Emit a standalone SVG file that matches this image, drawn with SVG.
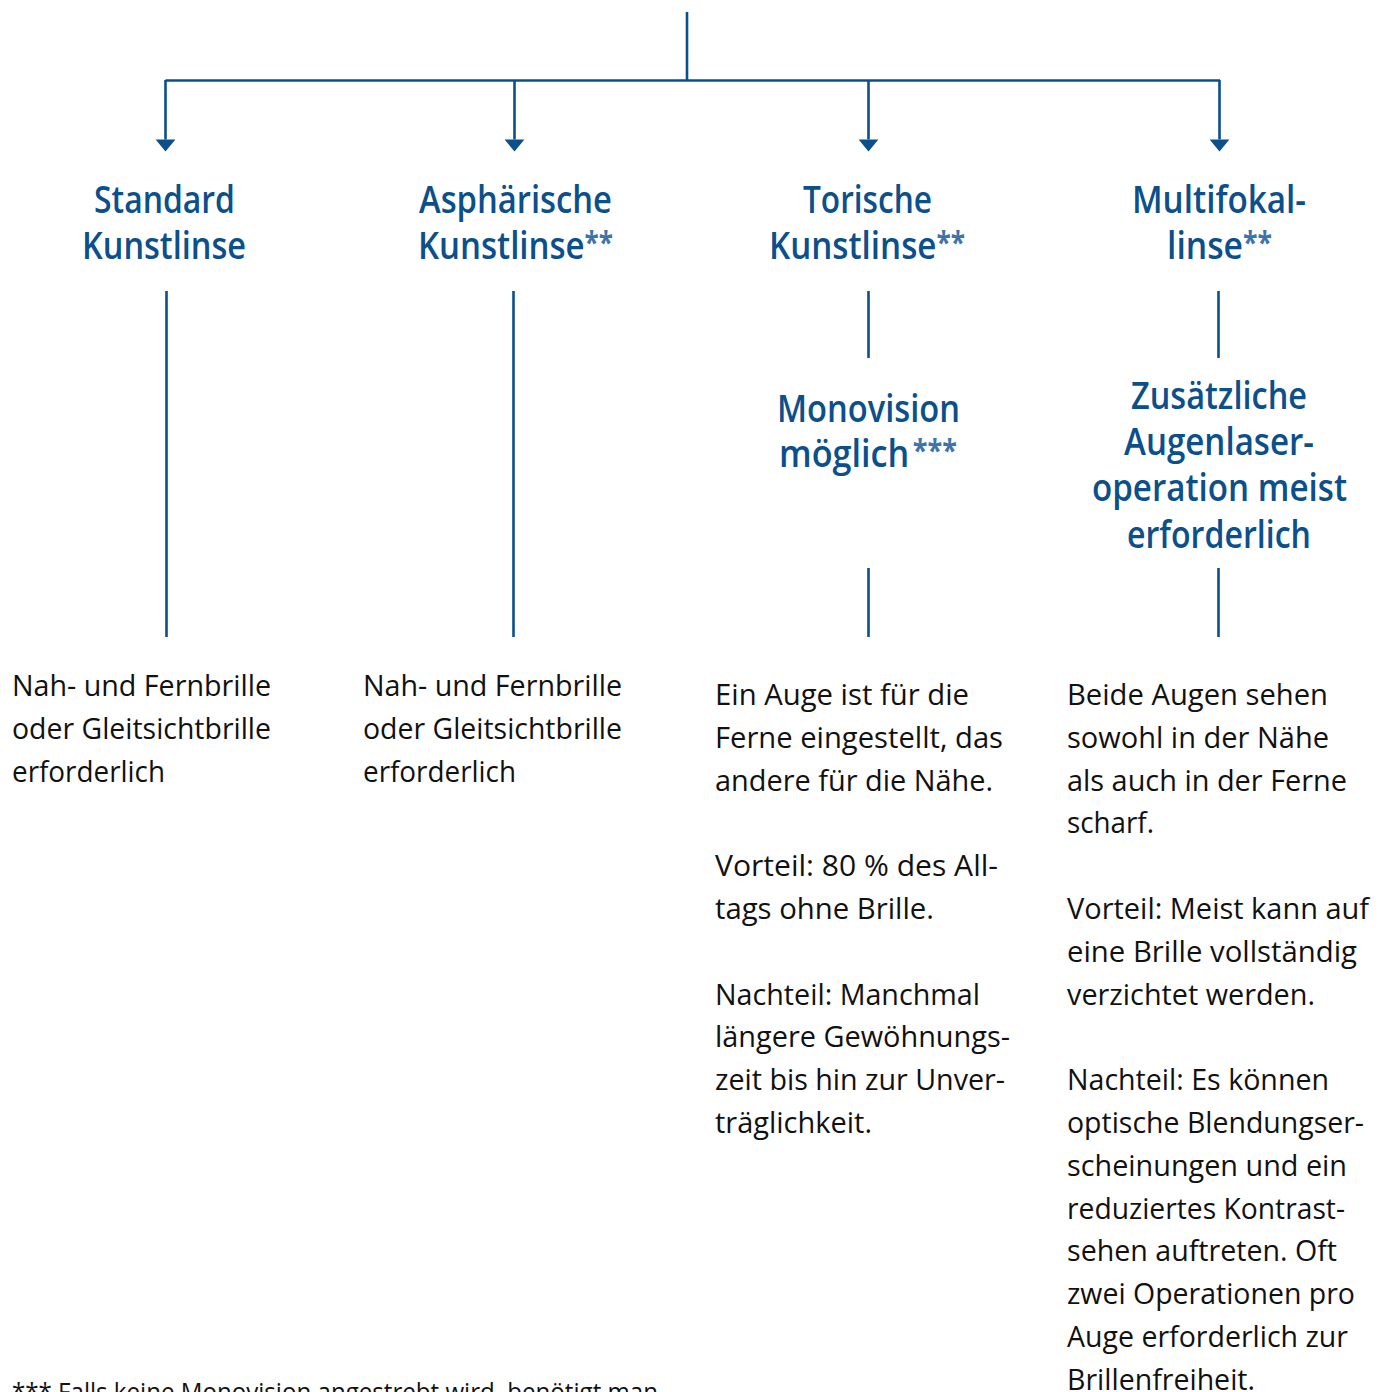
<svg xmlns="http://www.w3.org/2000/svg" width="1388" height="1392" viewBox="0 0 1388 1392">
<style>
  .ln { fill: none; stroke: #0b4f8b; stroke-width: 2.6; }
  .hd { font-family: "Open Sans", "Liberation Sans", sans-serif; font-weight: 600; font-size: 38px; fill: #0b4f8b; }
  .hm { text-anchor: middle; }
  .ast { font-weight: 700; font-size: 30px; fill: #3e74aa; }
  .bd { font-family: "Open Sans", "Liberation Sans", sans-serif; font-weight: 400; font-size: 30px; fill: #111111; }
  .fn { font-family: "Open Sans", "Liberation Sans", sans-serif; font-weight: 400; font-size: 25px; fill: #111111; }
</style>
<defs>
  <marker id="arr" markerUnits="userSpaceOnUse" markerWidth="14" markerHeight="22" viewBox="0 -10 12 20" refX="0" refY="0" orient="auto">
    <path d="M0,-9 L11,0 L0,9 z" fill="#0b4f8b"/>
  </marker>
</defs>
<rect width="1388" height="1392" fill="#ffffff"/>

<g id="connectors">
  <path class="ln" d="M687 12 V81"/>
  <path class="ln" d="M165.5 80.5 H1220"/>
  <path class="ln" d="M165.5 80 V139.5" marker-end="url(#arr)"/>
  <path class="ln" d="M514.5 80 V139.5" marker-end="url(#arr)"/>
  <path class="ln" d="M868.5 80 V139.5" marker-end="url(#arr)"/>
  <path class="ln" d="M1219.5 80 V139.5" marker-end="url(#arr)"/>
  <path class="ln" d="M166.5 291 V637"/>
  <path class="ln" d="M513.5 291 V637"/>
  <path class="ln" d="M868.5 291 V358"/>
  <path class="ln" d="M868.5 568 V637"/>
  <path class="ln" d="M1218.5 291 V358"/>
  <path class="ln" d="M1218.5 568 V637"/>
</g>

<g id="node-standard">
  <text class="hd hm" x="164.5" y="213" textLength="141" lengthAdjust="spacingAndGlyphs">Standard</text>
  <text class="hd hm" x="164" y="259" textLength="164" lengthAdjust="spacingAndGlyphs">Kunstlinse</text>
</g>
<g id="node-asphaerisch">
  <text class="hd hm" x="515.5" y="213" textLength="193" lengthAdjust="spacingAndGlyphs">Asphärische</text>
  <text class="hd" x="418" y="259" textLength="195" lengthAdjust="spacingAndGlyphs">Kunstlinse<tspan class="ast" dy="-6">**</tspan></text>
</g>
<g id="node-torisch">
  <text class="hd hm" x="867.5" y="213" textLength="129" lengthAdjust="spacingAndGlyphs">Torische</text>
  <text class="hd" x="769" y="259" textLength="196" lengthAdjust="spacingAndGlyphs">Kunstlinse<tspan class="ast" dy="-6">**</tspan></text>
</g>
<g id="node-multifokal">
  <text class="hd hm" x="1219" y="213" textLength="174" lengthAdjust="spacingAndGlyphs">Multifokal-</text>
  <text class="hd" x="1167" y="259" textLength="105" lengthAdjust="spacingAndGlyphs">linse<tspan class="ast" dy="-6">**</tspan></text>
</g>
<g id="node-monovision">
  <text class="hd hm" x="868.5" y="422" textLength="183" lengthAdjust="spacingAndGlyphs">Monovision</text>
  <text class="hd" x="779" y="467" textLength="178" lengthAdjust="spacingAndGlyphs">möglich<tspan class="ast" dx="4" dy="-6">***</tspan></text>
</g>
<g id="node-augenlaser">
  <text class="hd hm" x="1219" y="409" textLength="176" lengthAdjust="spacingAndGlyphs">Zusätzliche</text>
  <text class="hd hm" x="1219" y="455" textLength="190" lengthAdjust="spacingAndGlyphs">Augenlaser-</text>
  <text class="hd hm" x="1219.5" y="501" textLength="255" lengthAdjust="spacingAndGlyphs">operation meist</text>
  <text class="hd hm" x="1219" y="548" textLength="184" lengthAdjust="spacingAndGlyphs">erforderlich</text>
</g>

<g id="text-standard">
  <text class="bd" x="12" y="696" textLength="259" lengthAdjust="spacingAndGlyphs">Nah- und Fernbrille</text>
  <text class="bd" x="12" y="739" textLength="259" lengthAdjust="spacingAndGlyphs">oder Gleitsichtbrille</text>
  <text class="bd" x="12" y="782" textLength="153" lengthAdjust="spacingAndGlyphs">erforderlich</text>
</g>
<g id="text-asphaerisch">
  <text class="bd" x="363" y="696" textLength="259" lengthAdjust="spacingAndGlyphs">Nah- und Fernbrille</text>
  <text class="bd" x="363" y="739" textLength="259" lengthAdjust="spacingAndGlyphs">oder Gleitsichtbrille</text>
  <text class="bd" x="363" y="782" textLength="153" lengthAdjust="spacingAndGlyphs">erforderlich</text>
</g>
<g id="text-monovision">
  <text class="bd" x="715" y="705" textLength="254" lengthAdjust="spacingAndGlyphs">Ein Auge ist für die</text>
  <text class="bd" x="715" y="748" textLength="288" lengthAdjust="spacingAndGlyphs">Ferne eingestellt, das</text>
  <text class="bd" x="715" y="791" textLength="278" lengthAdjust="spacingAndGlyphs">andere für die Nähe.</text>
  <text class="bd" x="715" y="876" textLength="283" lengthAdjust="spacingAndGlyphs">Vorteil: 80 % des All-</text>
  <text class="bd" x="715" y="919" textLength="219" lengthAdjust="spacingAndGlyphs">tags ohne Brille.</text>
  <text class="bd" x="715" y="1005" textLength="265" lengthAdjust="spacingAndGlyphs">Nachteil: Manchmal</text>
  <text class="bd" x="715" y="1047" textLength="295" lengthAdjust="spacingAndGlyphs">längere Gewöhnungs-</text>
  <text class="bd" x="715" y="1090" textLength="290" lengthAdjust="spacingAndGlyphs">zeit bis hin zur Unver-</text>
  <text class="bd" x="715" y="1133" textLength="157" lengthAdjust="spacingAndGlyphs">träglichkeit.</text>
</g>
<g id="text-multifokal">
  <text class="bd" x="1067" y="705" textLength="261" lengthAdjust="spacingAndGlyphs">Beide Augen sehen</text>
  <text class="bd" x="1067" y="748" textLength="262" lengthAdjust="spacingAndGlyphs">sowohl in der Nähe</text>
  <text class="bd" x="1067" y="791" textLength="280" lengthAdjust="spacingAndGlyphs">als auch in der Ferne</text>
  <text class="bd" x="1067" y="833" textLength="87" lengthAdjust="spacingAndGlyphs">scharf.</text>
  <text class="bd" x="1067" y="919" textLength="302" lengthAdjust="spacingAndGlyphs">Vorteil: Meist kann auf</text>
  <text class="bd" x="1067" y="962" textLength="290" lengthAdjust="spacingAndGlyphs">eine Brille vollständig</text>
  <text class="bd" x="1067" y="1005" textLength="248" lengthAdjust="spacingAndGlyphs">verzichtet werden.</text>
  <text class="bd" x="1067" y="1090" textLength="262" lengthAdjust="spacingAndGlyphs">Nachteil: Es können</text>
  <text class="bd" x="1067" y="1133" textLength="297" lengthAdjust="spacingAndGlyphs">optische Blendungser-</text>
  <text class="bd" x="1067" y="1176" textLength="280" lengthAdjust="spacingAndGlyphs">scheinungen und ein</text>
  <text class="bd" x="1067" y="1219" textLength="278" lengthAdjust="spacingAndGlyphs">reduziertes Kontrast-</text>
  <text class="bd" x="1067" y="1261" textLength="270" lengthAdjust="spacingAndGlyphs">sehen auftreten. Oft</text>
  <text class="bd" x="1067" y="1304" textLength="288" lengthAdjust="spacingAndGlyphs">zwei Operationen pro</text>
  <text class="bd" x="1067" y="1347" textLength="281" lengthAdjust="spacingAndGlyphs">Auge erforderlich zur</text>
  <text class="bd" x="1067" y="1390" textLength="188" lengthAdjust="spacingAndGlyphs">Brillenfreiheit.</text>
</g>

<g id="footnote">
  <text class="fn" x="12" y="1401" textLength="646" lengthAdjust="spacingAndGlyphs">*** Falls keine Monovision angestrebt wird, benötigt man</text>
</g>
</svg>
